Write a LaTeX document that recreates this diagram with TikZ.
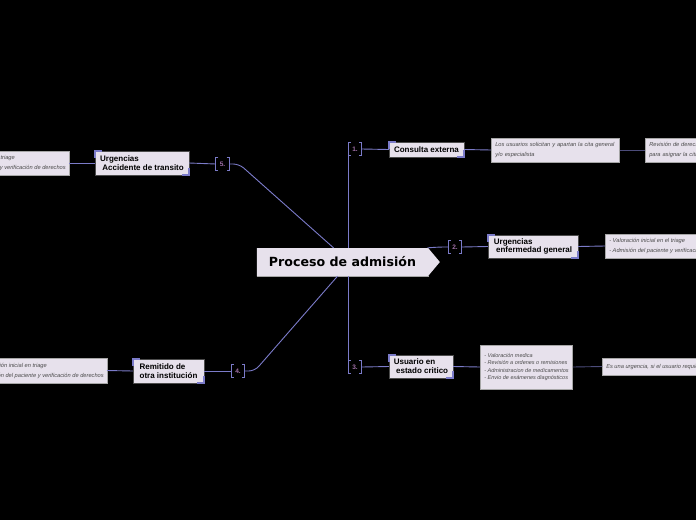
\documentclass[tikz,border=0pt]{standalone}
\usepackage{fontspec}
\setmainfont{Liberation Sans}
\newfontfamily\titlefont{DejaVu Sans}
\usetikzlibrary{shapes.symbols,calc}
\definecolor{lav}{HTML}{E7E1EC}
\definecolor{peri}{HTML}{7B7BC9}
\definecolor{numc}{HTML}{A070A8}
\definecolor{dline}{HTML}{4C4C7A}
\definecolor{txtg}{HTML}{4A4A4A}
\tikzset{
  conn/.style={draw=peri, line width=0.9pt},
  link/.style={draw=dline, line width=0.9pt},
  boxnode/.style={fill=lav, draw=gray!60!black, line width=0.4pt,
    font=\bfseries\fontsize{8}{8.8}\selectfont, align=left, inner xsep=4pt, inner ysep=2pt},
  note/.style={fill=lav, draw=gray!70, line width=0.5pt,
    font=\itshape\fontsize{5.7}{10}\selectfont, text=txtg, align=left, inner xsep=4pt},
  numb/.style={font=\bfseries\fontsize{6.5}{6.5}\selectfont, text=numc,
    minimum width=13pt, minimum height=13pt, inner sep=0pt},
  acc/.style={draw=peri, line width=1.6pt},
  brk/.style={draw=peri, line width=0.8pt}
}
\begin{document}
\begin{tikzpicture}[x=1pt,y=-1pt]
\useasboundingbox (0,0) rectangle (696,520);
\clip (0,0) rectangle (696,520);
\fill[black] (0,0) rectangle (696,520);

% central node
\node[signal, signal to=east, signal pointer angle=100, fill=lav,
  minimum width=183pt, minimum height=28pt, inner sep=0pt,
  font=\titlefont\bfseries\fontsize{12.6}{13}\selectfont] (c) at (342.5,262) {Proceso de admisión\hspace{10pt}};
\draw[gray!70, line width=0.6pt] (c.south west) -- ($(c.south)+(86,0)$);

% numbered brackets
\node[numb] (n1) at (355,149) {1.};
\node[numb] (n2) at (455,247) {2.};
\node[numb] (n3) at (355,367) {3.};
\node[numb] (n4) at (238,371) {4.};
\node[numb] (n5) at (222.5,164) {5.};
\foreach \n in {n1,n2,n3,n4,n5}{
  \draw[brk] ([xshift=2.5pt]\n.north west) -- (\n.north west) -- (\n.south west) -- ([xshift=2.5pt]\n.south west);
  \draw[brk] ([xshift=-2.5pt]\n.north east) -- (\n.north east) -- (\n.south east) -- ([xshift=-2.5pt]\n.south east);
}

% main boxes
\node[boxnode, minimum width=75pt, minimum height=15pt] (ce) at (426.5,149.5) {Consulta externa};
\node[boxnode, minimum width=90pt, minimum height=23pt] (ueg) at (533,246.5) {Urgencias\\ \ enfermedad general};
\node[boxnode, minimum width=64pt, minimum height=23pt] (uec) at (421,366.5) {Usuario en\\ \ estado critico};
\node[boxnode, minimum width=94pt, minimum height=24pt] (uat) at (142,163) {Urgencias\\ \ Accidente de transito};
\node[boxnode, minimum width=71pt, minimum height=24pt] (roi) at (168.5,371) {Remitido de\\ otra institución};
\foreach \n in {ce,ueg,uec,uat,roi}{
  \draw[acc] ([yshift=-7pt]\n.north west) -- (\n.north west) -- ([xshift=7pt]\n.north west);
  \draw[acc] ([yshift=7pt]\n.south east) -- (\n.south east) -- ([xshift=-7pt]\n.south east);
}

% notes
\node[note, anchor=west, minimum height=24pt, text width=120pt] (t1a) at (491,150) {Los usuarios solicitan y apartan la cita general\\y/o especialista};
\node[note, anchor=west, minimum height=24pt, text width=120pt] (t1b) at (645,150) {Revisión de derechos\\para asignar la cita};
\node[note, anchor=west, minimum height=24pt] (t2) at (605,246) {- Valoración inicial en el triage\\- Admisión del paciente y verificación de derechos};
\node[note, anchor=west, minimum height=44pt, font=\itshape\fontsize{5.5}{7.4}\selectfont, inner xsep=4pt] (t3a) at (480,367) {- Valoración medica\\- Revisión a ordenes o remisiones\\- Administracion de medicamentos\\- Envio de exámenes diagnósticos};
\node[note, anchor=west, minimum height=17pt] (t3b) at (602,366.5) {Es una urgencia, si el usuario requiere atención inmediata};
\node[note, anchor=east, minimum height=24pt, inner xsep=3pt] (t5) at (69,163) {- Valoración inicial en el triage\\- Admisión del paciente y verificación de derechos};
\node[note, anchor=east, minimum height=25pt, inner xsep=3pt] (t4) at (107,370.5) {- Valoración inicial en triage\\- Admisión del paciente y verificación de derechos};

% trunk connectors
\draw[conn] (c.north -| n1.west) -- (n1.south west);
\draw[conn] (c.south -| n3.west) -- (n3.north west);
\draw[conn, rounded corners=6pt] ($(c.north)+(-9,0)$) -- ($(n5.east)+(10,0)$) -- (n5.east);
\draw[conn, rounded corners=6pt] ($(c.south)+(-5,0)$) -- ($(n4.east)+(10,0)$) -- (n4.east);
\draw[conn, rounded corners=4pt] ($(c.north)+(85,0)$) -- ($(n2.west)+(-8,0)$) -- (n2.west);

% bracket to box
\draw[conn] (n1.east) -- (ce.west);
\draw[conn] (n2.east) -- (ueg.west);
\draw[conn] (n3.east) -- (uec.west);
\draw[conn] (n5.west) -- (uat.east);
\draw[conn] (n4.west) -- (roi.east);

% box to notes
\draw[conn] (ce.east) -- (t1a.west);
\draw[link] (t1a.east) -- (t1b.west);
\draw[conn] (ueg.east) -- (t2.west);
\draw[conn] (uec.east) -- (t3a.west);
\draw[link] (t3a.east) -- (t3b.west);
\draw[conn] (uat.west) -- (t5.east);
\draw[conn] (roi.west) -- (t4.east);
\end{tikzpicture}
\end{document}
